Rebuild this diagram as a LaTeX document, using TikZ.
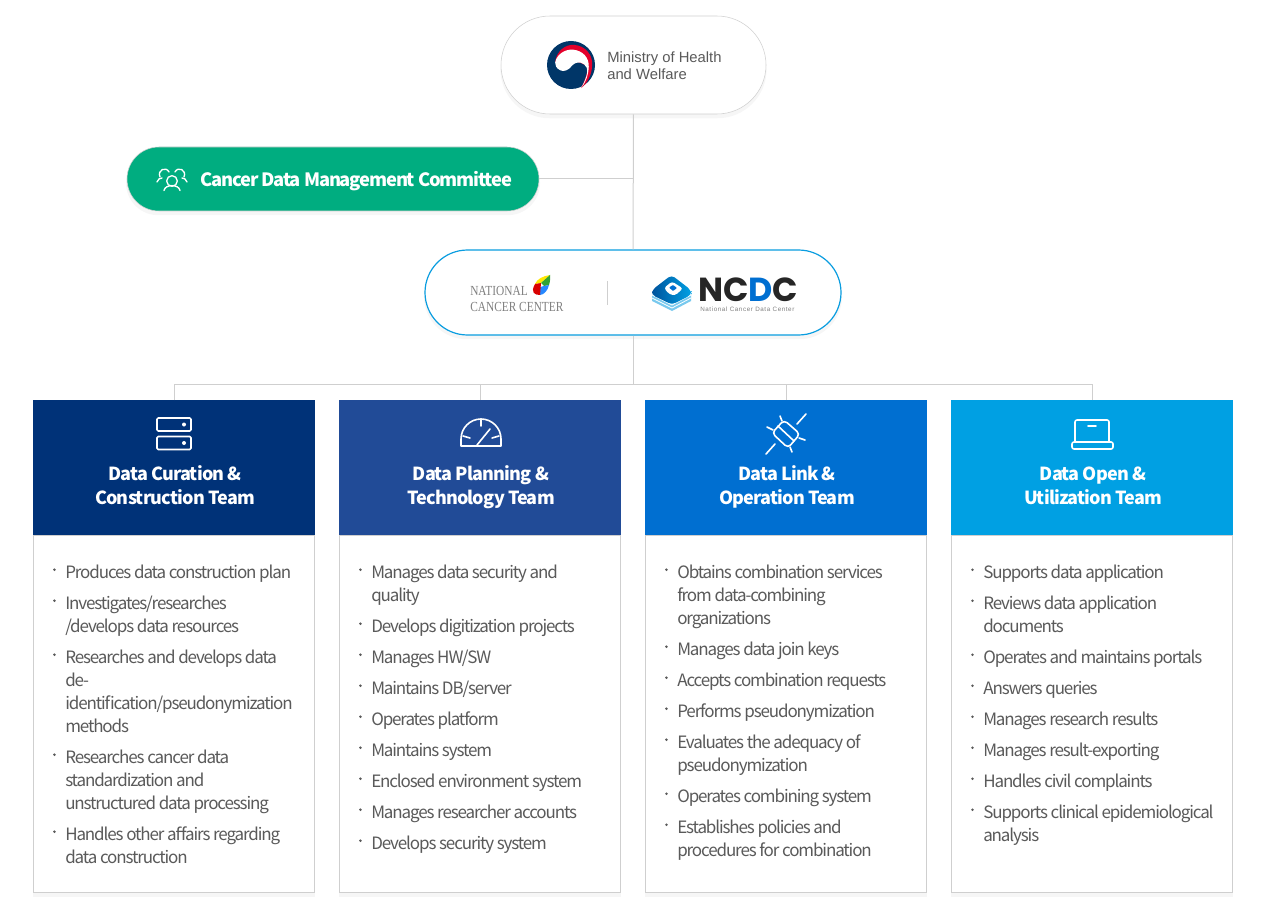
\documentclass[tikz,border=0pt]{standalone}
\usepackage{fontspec}
\usetikzlibrary{shadows}
\newfontfamily\bodyfont[LetterSpace=-6.6]{Noto Sans CJK KR}
\newfontfamily\titlefont[LetterSpace=-4.5]{Noto Sans CJK KR}
\newfontfamily\pillfont[LetterSpace=-6.3]{Noto Sans CJK KR}
\newfontfamily\ministryfont{Liberation Sans}
\newfontfamily\ncdcsubfont[LetterSpace=9.5]{Liberation Sans}
\newfontfamily\nccfont[FakeStretch=0.82]{Liberation Serif}
\newfontfamily\ncdcfont{Poppins}
\definecolor{linegray}{HTML}{CFCFCF}
\definecolor{bodygray}{HTML}{5A5A5A}
\definecolor{pillgreen}{HTML}{00AD80}
\definecolor{pillblue}{HTML}{0A9DE0}
\definecolor{curationblue}{HTML}{003278}
\definecolor{planningblue}{HTML}{214B97}
\definecolor{linkblue}{HTML}{006FD1}
\definecolor{openblue}{HTML}{00A0E3}
\definecolor{taegeuknavy}{HTML}{003668}
\definecolor{taegeukred}{HTML}{E4002B}
\tikzset{
    softshadow/.style={drop shadow={opacity=0.07,shadow xshift=0pt,shadow yshift=-3pt,shadow scale=1.005}},
    pill/.style={rectangle,rounded corners=#1,softshadow},
    teamhead/.style={rectangle,inner sep=0pt,minimum width=211.5pt,minimum height=101.25pt,anchor=north west},
    teambody/.style={rectangle,draw=linegray,fill=white,inner sep=0pt,minimum width=211pt,minimum height=267.75pt,anchor=north west,softshadow},
    teamtitle/.style={text=white,align=center,inner sep=0pt,font=\titlefont\bfseries\fontsize{13.5}{18}\selectfont,execute at begin node=\strut,execute at end node=\strut},
    itemtext/.style={text=bodygray,inner sep=0pt,anchor=north west,yshift=7.5pt,font=\bodyfont\fontsize{12.75}{17.25}\selectfont},
    connector/.style={draw=linegray,line width=0.75pt},
    icon/.style={draw=white,line width=1.2pt,line cap=round,line join=round},
}
\newcommand{\teamitem}[4]{
    \node[itemtext] (#1) at (#2,#3) {\begin{tabular}[t]{@{}l@{}}#4\end{tabular}};
    \fill[bodygray] ([xshift=-7.9pt,yshift=-5.8pt]#1.north west) circle (1.1pt);
}
\begin{document}
\begin{tikzpicture}[x=0.75pt,y=-0.75pt]
    \useasboundingbox (0,0) rectangle (1270,909);
    % top pills
    \node[pill=36.75pt,draw=linegray,fill=white,minimum width=198.75pt,minimum height=73.5pt] (ministry) at (633.5,65) {};
    \node[pill=24pt,draw=linegray,fill=pillgreen,minimum width=309pt,minimum height=48pt] (committee) at (333,179) {};
    \node[pill=31.9pt,draw=pillblue,fill=white,line width=0.9pt,minimum width=312pt,minimum height=63.75pt] (center) at (633,292.5) {};
    % team boxes
    \node[teambody] (curationbody) at (33,535) {};
    \node[teambody] (planningbody) at (339,535) {};
    \node[teambody] (linkbody) at (645,535) {};
    \node[teambody] (openbody) at (951,535) {};
    \node[teamhead,fill=curationblue] (curation) at (33,400) {};
    \node[teamhead,fill=planningblue] (planning) at (339,400) {};
    \node[teamhead,fill=linkblue] (link) at (645,400) {};
    \node[teamhead,fill=openblue] (open) at (951,400) {};
    % connectors
    \coordinate (branch) at (633,384);
    \draw[connector] (ministry) -- (center);
    \draw[connector] (committee.east) -- (committee.east -| ministry.south);
    \draw[connector] (center) -- (branch);
    \draw[connector] (curation.north) |- (branch);
    \draw[connector] (planning.north) |- (branch);
    \draw[connector] (link.north) |- (branch);
    \draw[connector] (open.north) |- (branch);
    % ministry logo
    \fill[taegeuknavy] (571,65) circle (18pt);
    \begin{scope}[shift={(571,65)},x=18pt,y=-18pt]
        \fill[taegeukred] (-0.66,-0.12) .. controls (-0.6,-0.62) and (-0.2,-0.86) .. (0.12,-0.84)
            .. controls (0.62,-0.8) and (0.92,-0.4) .. (0.88,0.02)
            .. controls (0.86,0.45) and (0.65,0.8) .. (0.42,0.96)
            .. controls (0.6,0.6) and (0.7,0.3) .. (0.68,0.1)
            .. controls (0.5,-0.2) and (-0.6,-0.3) .. cycle;
        \fill[white] (-0.66,-0.1) .. controls (-0.6,-0.45) and (-0.25,-0.66) .. (0.08,-0.64)
            .. controls (0.5,-0.6) and (0.76,-0.3) .. (0.74,0.08)
            .. controls (0.72,0.45) and (0.6,0.75) .. (0.42,0.96)
            .. controls (0.62,0.6) and (0.72,0.3) .. (0.66,0.12)
            .. controls (0.55,-0.12) and (0.25,-0.2) .. (0.05,0.02)
            .. controls (-0.1,0.22) and (-0.3,0.3) .. (-0.45,0.22)
            .. controls (-0.6,0.14) and (-0.68,0.02) .. cycle;
    \end{scope}
    \node[anchor=west,inner sep=0pt,align=left,text=bodygray,font=\ministryfont\fontsize{11.1}{12.9}\selectfont] (ministrytext) at (607,65.5) {Ministry of Health\\and Welfare};
    % committee label
    \draw[icon,line width=1pt] (172,181) circle (4pt);
    \draw[icon,line width=1pt] (164,190.5) .. controls (165,184) and (179,184) .. (180,190.5);
    \draw[icon,line width=1pt] (160,177) .. controls (157,170) and (166,166) .. (169,172);
    \draw[icon,line width=1pt] (157,182) .. controls (158,179) and (160,178) .. (162,178);
    \draw[icon,line width=1pt] (184,177) .. controls (187,170) and (178,166) .. (175,172);
    \draw[icon,line width=1pt] (187,182) .. controls (186,179) and (184,178) .. (182,178);
    \node[anchor=west,inner sep=0pt,text=white,font=\pillfont\bfseries\fontsize{13.75}{18}\selectfont] (committeetext) at (200,181.5) {Cancer Data Management Committee};
    % center logos
    \node[anchor=north west,inner sep=0pt,align=left,text=gray,font=\nccfont\fontsize{10.4}{12}\selectfont] (ncctext) at (470,286) {NATIONAL\\CANCER CENTER};
    \fill[yellow!90!orange] (550,275) .. controls (543,276) and (537,279) .. (535,284) -- (541,283) -- cycle;
    \fill[green!55!black!80] (550,275) -- (541,283) -- (544,286) -- (549,285) .. controls (550,282) and (550.5,278) .. (550,275);
    \fill[blue!55!cyan!85] (544,286) -- (549,285) .. controls (548,290) and (544,295) .. (540,295) -- (540,287) -- cycle;
    \fill[red!85!black] (535,284) -- (541,283) -- (540,295) .. controls (535,295) and (530,293) .. cycle;
    \draw[linegray,line width=0.5pt] (607,281) -- (607,305);
    % ncdc block
    \fill[pillblue!55!white] (652,295) -- (672,283) -- (691,295) -- (691,301) -- (672,311) -- (652,301) -- cycle;
    \draw[white,line width=0.6pt] (652,298) -- (672,308) -- (691,298);
    \draw[white,line width=0.6pt] (652,295) -- (672,305) -- (691,295);
    \shade[left color=linkblue!75!black,right color=openblue,rounded corners=3pt] (652,290) -- (671.5,275) -- (691,290) -- (691,295) -- (672,304.5) -- (652,295) -- cycle;
    \fill[white,rounded corners=2pt] (664,288) -- (672,281.5) -- (683,288.5) -- (675,295.5) -- (669,294) -- cycle;
    \fill[linkblue,rounded corners=0.5pt] (669,287.5) -- (673,285) -- (677,288) -- (673,291) -- cycle;
    \node[anchor=west,inner sep=0pt,text=black!85,font=\ncdcfont\bfseries\fontsize{25}{25}\selectfont] (ncdctext) at (698,290) {NC\textcolor{linkblue}{D}C};
    \node[anchor=west,inner sep=0pt,text=gray,font=\ncdcsubfont\fontsize{4.7}{5}\selectfont] (ncdcsub) at (700,309.5) {National Cancer Data Center};
    % team icons
    \draw[icon,rounded corners=1pt] (157,418) rectangle (191,431);
    \draw[icon,rounded corners=1pt] (157,436.5) rectangle (191,449.5);
    \fill[white] (184,424.5) circle (1.5pt);
    \fill[white] (184,443) circle (1.5pt);
    \draw[icon] (461,446) -- (461,439) arc (180:360:20) -- (501,446) -- cycle;
    \draw[icon] (477,445) -- (490,429);
    \draw[icon] (481,420) -- (481,426);
    \draw[icon] (463,436) -- (470,438);
    \draw[icon] (499,436) -- (492,438);
    \draw[icon] (766,454) -- (775,444);
    \draw[icon] (797,424) -- (806,414);
    \draw[icon,rounded corners=3pt] (772,433) -- (784,420) -- (800,434) -- (788,448) -- cycle;
    \draw[icon] (778,426) -- (794,441);
    \draw[icon] (780,416) -- (782,421);
    \draw[icon] (767,427) -- (773,430);
    \draw[icon] (799,438) -- (805,440);
    \draw[icon] (790,447) -- (792,452);
    \draw[icon,rounded corners=1.5pt] (1075,442) -- (1075,420) -- (1109,420) -- (1109,442);
    \draw[icon,rounded corners=1.5pt] (1072,442) rectangle (1113,449);
    \draw[icon] (1088,426) -- (1096,426);
    % team titles
    \node[teamtitle] (curationtitle) at (175,489) {Data Curation \&\\Construction Team};
    \node[teamtitle] (planningtitle) at (481,489) {Data Planning \&\\Technology Team};
    \node[teamtitle] (linktitle) at (787,489) {Data Link \&\\Operation Team};
    \node[teamtitle] (opentitle) at (1093,489) {Data Open \&\\Utilization Team};
    % curation list
    \teamitem{ca}{65}{572}{Produces data construction plan}
    \teamitem{cb}{65}{603}{Investigates/researches\\/develops data resources}
    \teamitem{cc}{65}{657}{Researches and develops data\\de-\\identification/pseudonymization\\methods}
    \teamitem{cd}{65}{757}{Researches cancer data\\standardization and\\unstructured data processing}
    \teamitem{ce}{65}{834}{Handles other affairs regarding\\data construction}
    % planning list
    \teamitem{pa}{371}{572}{Manages data security and\\quality}
    \teamitem{pb}{371}{626}{Develops digitization projects}
    \teamitem{pc}{371}{657}{Manages HW/SW}
    \teamitem{pd}{371}{688}{Maintains DB/server}
    \teamitem{pe}{371}{719}{Operates platform}
    \teamitem{pf}{371}{750}{Maintains system}
    \teamitem{pg}{371}{781}{Enclosed environment system}
    \teamitem{ph}{371}{812}{Manages researcher accounts}
    \teamitem{pi}{371}{843}{Develops security system}
    % link list
    \teamitem{la}{677}{572}{Obtains combination services\\from data-combining\\organizations}
    \teamitem{lb}{677}{649}{Manages data join keys}
    \teamitem{lc}{677}{680}{Accepts combination requests}
    \teamitem{ld}{677}{711}{Performs pseudonymization}
    \teamitem{le}{677}{742}{Evaluates the adequacy of\\pseudonymization}
    \teamitem{lf}{677}{796}{Operates combining system}
    \teamitem{lg}{677}{827}{Establishes policies and\\procedures for combination}
    % open list
    \teamitem{oa}{983}{572}{Supports data application}
    \teamitem{ob}{983}{603}{Reviews data application\\documents}
    \teamitem{oc}{983}{657}{Operates and maintains portals}
    \teamitem{od}{983}{688}{Answers queries}
    \teamitem{oe}{983}{719}{Manages research results}
    \teamitem{of}{983}{750}{Manages result-exporting}
    \teamitem{og}{983}{781}{Handles civil complaints}
    \teamitem{oh}{983}{812}{Supports clinical epidemiological\\analysis}
\end{tikzpicture}
\end{document}
